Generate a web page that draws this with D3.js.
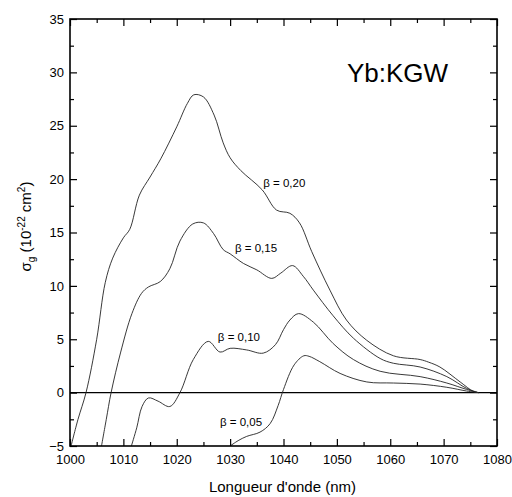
<!DOCTYPE html>
<html>
<head>
<meta charset="utf-8">
<script src="https://cdn.jsdelivr.net/npm/d3@7"></script>
<style>
  body { margin: 0; background: #fff; }
  svg { font-family: "Liberation Sans", Arial, sans-serif; }
</style>
</head>
<body>
<svg id="chart" width="512" height="497"></svg>
<script>
// gain cross-section of Yb:KGW for several inversion ratios beta
var seriesLabels = ["β = 0,20", "β = 0,15", "β = 0,10", "β = 0,05"];

var lambda20 = [1000.2, 1001.5, 1003, 1005, 1006.6, 1008, 1010, 1011.2, 1013, 1015, 1017, 1020, 1022, 1023.2, 1025, 1027, 1028.7, 1030, 1032, 1036, 1038.7, 1041.2, 1043, 1045.3, 1048.7, 1051.8, 1055.6, 1060.6, 1065.6, 1067.2, 1069.3, 1073.1, 1075.6, 1076.5];
var sigma20  = [-5, -2.5, 0, 5, 10.3, 12.6, 14.5, 15.3, 18.5, 20.2, 21.9, 24.9, 27.1, 27.9, 27.7, 26, 23.4, 22, 20.8, 19, 17.1, 16.8, 15.9, 13.2, 9.6, 6.8, 4.9, 3.45, 3.1, 2.85, 2.4, 1.0, 0.1, 0];

var lambda15 = [1005.9, 1006.8, 1007.7, 1009.5, 1011.6, 1013.4, 1014.7, 1016.9, 1018.7, 1020.6, 1023, 1025, 1026.9, 1028.7, 1030, 1032.5, 1035, 1037.8, 1039.5, 1041.7, 1043.7, 1045.6, 1049.3, 1053.1, 1058.1, 1060.6, 1065.6, 1070.6, 1074.3, 1076.5];
var sigma15  = [-5, -2.5, 0, 3.8, 7.4, 9.3, 9.9, 10.4, 11.6, 14.2, 15.8, 15.9, 14.9, 13.4, 13, 12.1, 11.5, 10.7, 11.2, 11.9, 10.9, 9.6, 7.2, 5.1, 3.2, 2.75, 2.4, 1.5, 0.4, 0];

var lambda10 = [1011.5, 1012.5, 1013.5, 1014.7, 1016.5, 1018.7, 1020.6, 1023.1, 1025.9, 1028.1, 1030, 1033.1, 1036.2, 1038.5, 1040, 1041.2, 1042.8, 1045.6, 1049.3, 1053.1, 1058.1, 1065.6, 1070.6, 1074.3, 1076.5];
var sigma10  = [-5, -3.3, -1.3, -0.5, -0.8, -1.3, 0, 3.1, 4.8, 3.8, 4.15, 4.0, 3.7, 4.5, 5.9, 6.8, 7.4, 6.6, 4.6, 3.1, 2.0, 1.5, 0.9, 0.3, 0];

var lambda05 = [1030, 1031.5, 1033.1, 1035.6, 1037.5, 1039, 1040, 1042, 1043.8, 1044.8, 1046.8, 1050.6, 1055.6, 1060.6, 1065.6, 1070.6, 1074.3, 1076.5];
var sigma05  = [-5, -4.5, -4.1, -3.7, -2.9, -1.2, 0.3, 2.6, 3.45, 3.4, 2.9, 1.8, 1.0, 0.9, 0.8, 0.5, 0.15, 0];

var xTicks = [1000, 1010, 1020, 1030, 1040, 1050, 1060, 1070, 1080];
var yTicks = [-5, 0, 5, 10, 15, 20, 25, 30, 35];

var lambdas = [lambda20, lambda15, lambda10, lambda05];
var sigmas = [sigma20, sigma15, sigma10, sigma05];
// where each beta label sits (data coords, text baseline)
var labelX = [1036.2, 1030.9, 1027.7, 1028.1];
var labelY = [19.3, 13.2, 4.85, -3.1];

var svg = d3.select('#chart');
var margin = {top: 19, right: 15, bottom: 51, left: 70};
var W = 512, H = 497;

var x = d3.scaleLinear().domain([1000, 1080]).range([margin.left, W - margin.right]);
var y = d3.scaleLinear().domain([-5, 35]).range([H - margin.bottom, margin.top]);

var minorX = d3.range(1005, 1080, 10);
var minorY = d3.range(-2.5, 35, 5);

svg.append('clipPath').attr('id', 'plot-clip')
  .append('rect')
  .attr('x', x(1000)).attr('y', y(35))
  .attr('width', x(1080) - x(1000)).attr('height', y(-5) - y(35));

// zero line
svg.append('line')
  .attr('x1', x(1000)).attr('x2', x(1080))
  .attr('y1', y(0)).attr('y2', y(0))
  .attr('stroke', '#000').attr('stroke-width', 1.2);

var line = d3.line()
  .x(function(d) { return x(d[0]); })
  .y(function(d) { return y(d[1]); })
  .curve(d3.curveCatmullRom.alpha(0.5));

var g = svg.append('g').attr('clip-path', 'url(#plot-clip)');
lambdas.forEach(function(lx, i) {
  var pts = lx.map(function(v, j) { return [v, sigmas[i][j]]; });
  g.append('path')
    .attr('d', line(pts))
    .attr('fill', 'none')
    .attr('stroke', '#222')
    .attr('stroke-width', 0.9);
});

// axes, ticks inward on all four sides
function styleAxis(sel) {
  sel.selectAll('.domain').remove();
  sel.selectAll('line').attr('stroke', '#000').attr('stroke-width', 1.2);
  sel.selectAll('text').attr('font-size', '13px').attr('fill', '#000');
}

svg.append('g').attr('transform', 'translate(0,' + y(-5) + ')')
  .call(d3.axisBottom(x).tickValues(xTicks).tickSize(-7).tickPadding(9).tickFormat(d3.format('d')))
  .call(styleAxis);
svg.append('g').attr('transform', 'translate(0,' + y(-5) + ')')
  .call(d3.axisBottom(x).tickValues(minorX).tickSize(-4).tickFormat(''))
  .call(styleAxis);
svg.append('g').attr('transform', 'translate(0,' + y(35) + ')')
  .call(d3.axisTop(x).tickValues(xTicks).tickSize(-7).tickFormat(''))
  .call(styleAxis);
svg.append('g').attr('transform', 'translate(0,' + y(35) + ')')
  .call(d3.axisTop(x).tickValues(minorX).tickSize(-4).tickFormat(''))
  .call(styleAxis);

svg.append('g').attr('transform', 'translate(' + x(1000) + ',0)')
  .call(d3.axisLeft(y).tickValues(yTicks).tickSize(-7).tickPadding(6).tickFormat(d3.format('d')))
  .call(styleAxis);
svg.append('g').attr('transform', 'translate(' + x(1000) + ',0)')
  .call(d3.axisLeft(y).tickValues(minorY).tickSize(-4).tickFormat(''))
  .call(styleAxis);
svg.append('g').attr('transform', 'translate(' + x(1080) + ',0)')
  .call(d3.axisRight(y).tickValues(yTicks).tickSize(-7).tickFormat(''))
  .call(styleAxis);
svg.append('g').attr('transform', 'translate(' + x(1080) + ',0)')
  .call(d3.axisRight(y).tickValues(minorY).tickSize(-4).tickFormat(''))
  .call(styleAxis);

// frame
svg.append('rect')
  .attr('x', x(1000)).attr('y', y(35))
  .attr('width', x(1080) - x(1000)).attr('height', y(-5) - y(35))
  .attr('fill', 'none').attr('stroke', '#000').attr('stroke-width', 1.6);

// beta labels
seriesLabels.forEach(function(t, i) {
  svg.append('text')
    .attr('x', x(labelX[i])).attr('y', y(labelY[i]))
    .attr('font-size', '11.5px')
    .text(t);
});

svg.append('text')
  .attr('x', 347).attr('y', 82)
  .attr('font-size', '26px')
  .text('Yb:KGW');

svg.append('text')
  .attr('x', (x(1000) + x(1080)) / 2 - 1).attr('y', 492)
  .attr('text-anchor', 'middle')
  .attr('font-size', '15px')
  .text("Longueur d'onde (nm)");

var yl = svg.append('text')
  .attr('transform', 'translate(31,' + (y(15) - 6) + ') rotate(-90)')
  .attr('text-anchor', 'middle')
  .attr('font-size', '15px');
yl.append('tspan').text('σ');
yl.append('tspan').attr('font-size', '10px').attr('dy', 4).text('g');
yl.append('tspan').attr('dy', -4).text(' (10');
yl.append('tspan').attr('font-size', '10px').attr('dy', -6).text('-22');
yl.append('tspan').attr('dy', 6).text(' cm');
yl.append('tspan').attr('font-size', '10px').attr('dy', -6).text('2');
yl.append('tspan').attr('dy', 6).text(')');
</script>
</body>
</html>
